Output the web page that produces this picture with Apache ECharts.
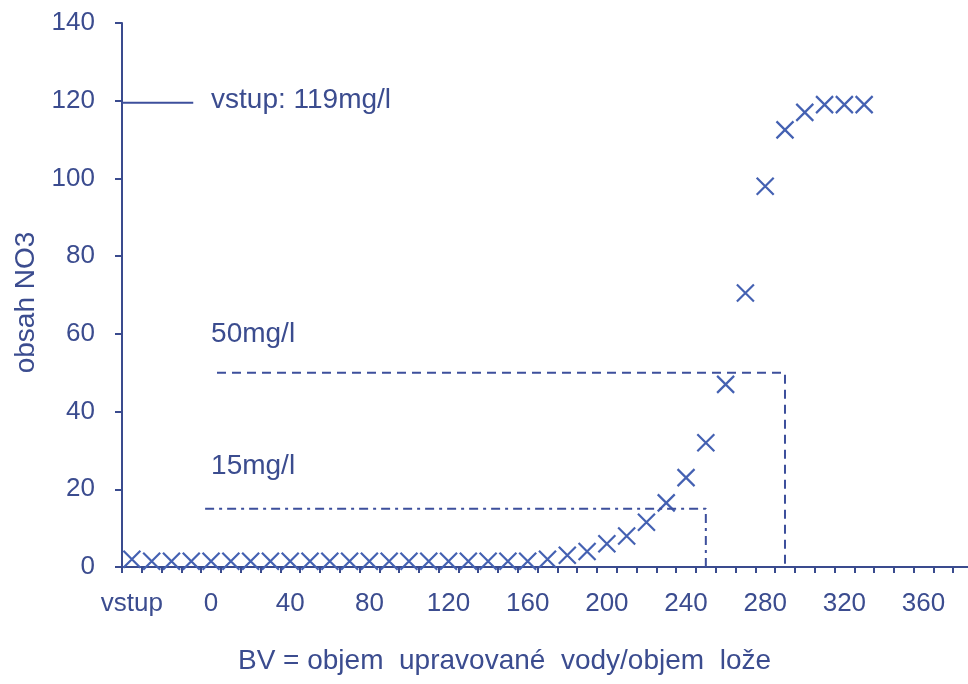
<!DOCTYPE html>
<html>
<head>
<meta charset="utf-8">
<script src="https://cdn.jsdelivr.net/npm/echarts@6/dist/echarts.min.js"></script>
<style>
html,body{margin:0;padding:0;background:#ffffff;}
#chart{width:968px;height:684px;}
</style>
</head>
<body>
<div id="chart"></div>
<script>
// ---- data ----
const bvValues = [-40, -30, -20, -10, 0, 10, 20, 30, 40, 50, 60, 70, 80, 90, 100, 110, 120, 130, 140, 150, 160,
                  170, 180, 190, 200, 210, 220, 230, 240, 250, 260, 270, 280, 290, 300, 310, 320, 330];
const no3Values = [2, 1.5, 1.5, 1.5, 1.5, 1.5, 1.5, 1.5, 1.5, 1.5, 1.5, 1.5, 1.5, 1.5, 1.5, 1.5, 1.5, 1.5, 1.5, 1.5, 1.5,
                   2, 3, 4, 6, 8, 11.5, 16.5, 23, 32, 47, 70.5, 98, 112.5, 117, 119, 119, 119];

const xLabelValues = [-40, 0, 40, 80, 120, 160, 200, 240, 280, 320, 360];
const xLabelTexts  = ['vstup', '0', '40', '80', '120', '160', '200', '240', '280', '320', '360'];

const inputLineX = [-45, -9];
const inputLineY = [119.5, 119.5];
const limit15X = [-3, 250, 250];
const limit15Y = [15, 15, 0];
const limit50X = [3, 290, 290];
const limit50Y = [50, 50, 0];

const noteX = [0, 0, 0];
const noteY = [120, 60, 26];
const noteTexts = ['vstup: 119mg/l', '50mg/l', '15mg/l'];

const xAxisTitle = 'BV = objem  upravované  vody/objem  lože';
const yAxisTitle = 'obsah NO3';

// ---- styling ----
const FONT = "'Liberation Sans', Arial, sans-serif";
const AXIS_COLOR = '#3a4b8e';
const TEXT_COLOR = '#3b4c8f';
const MARK_COLOR = '#4461b2';
const LINE_COLOR = '#3d4f9c';

const xMin = -45, xMax = 385;
const xTickValues = [];
for (let v = xMin; v <= xMax; v += 10) xTickValues.push(v);

const zip = (a, b) => a.map((v, i) => [v, b[i]]);

const chart = echarts.init(document.getElementById('chart'), null, {renderer: 'canvas'});
chart.setOption({
  animation: false,
  backgroundColor: '#ffffff',
  grid: {left: 122, right: -5, top: 23, bottom: 117, containLabel: false, outerBoundsMode: 'none'},
  xAxis: {
    type: 'value', min: xMin, max: xMax,
    axisLine: {show: true, onZero: false, lineStyle: {color: AXIS_COLOR, width: 2}},
    axisTick: {show: true, customValues: xTickValues, length: 6, lineStyle: {color: AXIS_COLOR, width: 2}},
    axisLabel: {
      customValues: xLabelValues,
      formatter: v => { const i = xLabelValues.indexOf(v); return i >= 0 ? xLabelTexts[i] : ''; },
      color: TEXT_COLOR, fontFamily: FONT, fontSize: 26, margin: 24
    },
    splitLine: {show: false},
    name: xAxisTitle, nameLocation: 'middle', nameGap: 80,
    nameTextStyle: {color: TEXT_COLOR, fontFamily: FONT, fontSize: 28, padding: [0, 86, 0, 0]}
  },
  yAxis: {
    type: 'value', min: 0, max: 140, interval: 20,
    axisLine: {show: true, onZero: false, lineStyle: {color: AXIS_COLOR, width: 2}},
    axisTick: {show: true, length: 7, lineStyle: {color: AXIS_COLOR, width: 2}},
    axisLabel: {color: TEXT_COLOR, fontFamily: FONT, fontSize: 26, margin: 27},
    splitLine: {show: false},
    name: yAxisTitle, nameLocation: 'middle', nameGap: 82,
    nameTextStyle: {color: TEXT_COLOR, fontFamily: FONT, fontSize: 28, padding: [0, 15, 0, 0]}
  },
  series: [
    {
      name: 'vstup', type: 'line', data: zip(inputLineX, inputLineY),
      symbol: 'none', silent: true,
      lineStyle: {color: LINE_COLOR, width: 2, type: 'solid'}
    },
    {
      name: '15mg/l', type: 'line', data: zip(limit15X, limit15Y),
      symbol: 'none', silent: true,
      lineStyle: {color: LINE_COLOR, width: 2, type: [9, 5, 3, 5]}
    },
    {
      name: '50mg/l', type: 'line', data: zip(limit50X, limit50Y),
      symbol: 'none', silent: true,
      lineStyle: {color: LINE_COLOR, width: 2, type: [9, 6]}
    },
    {
      name: 'NO3', type: 'scatter', data: zip(bvValues, no3Values),
      symbol: 'path://M0,0L10,10M10,0L0,10', symbolSize: 17,
      itemStyle: {color: 'rgba(0,0,0,0)', borderColor: MARK_COLOR, borderWidth: 2.2, opacity: 1}
    },
    {
      name: 'notes', type: 'scatter', silent: true,
      data: noteX.map((x, i) => ({value: [x, noteY[i]], name: noteTexts[i]})),
      symbolSize: 0,
      itemStyle: {opacity: 1},
      label: {
        show: true, position: 'right', distance: 0,
        formatter: p => p.name,
        color: TEXT_COLOR, fontFamily: FONT, fontSize: 28
      }
    }
  ]
});
</script>
</body>
</html>
